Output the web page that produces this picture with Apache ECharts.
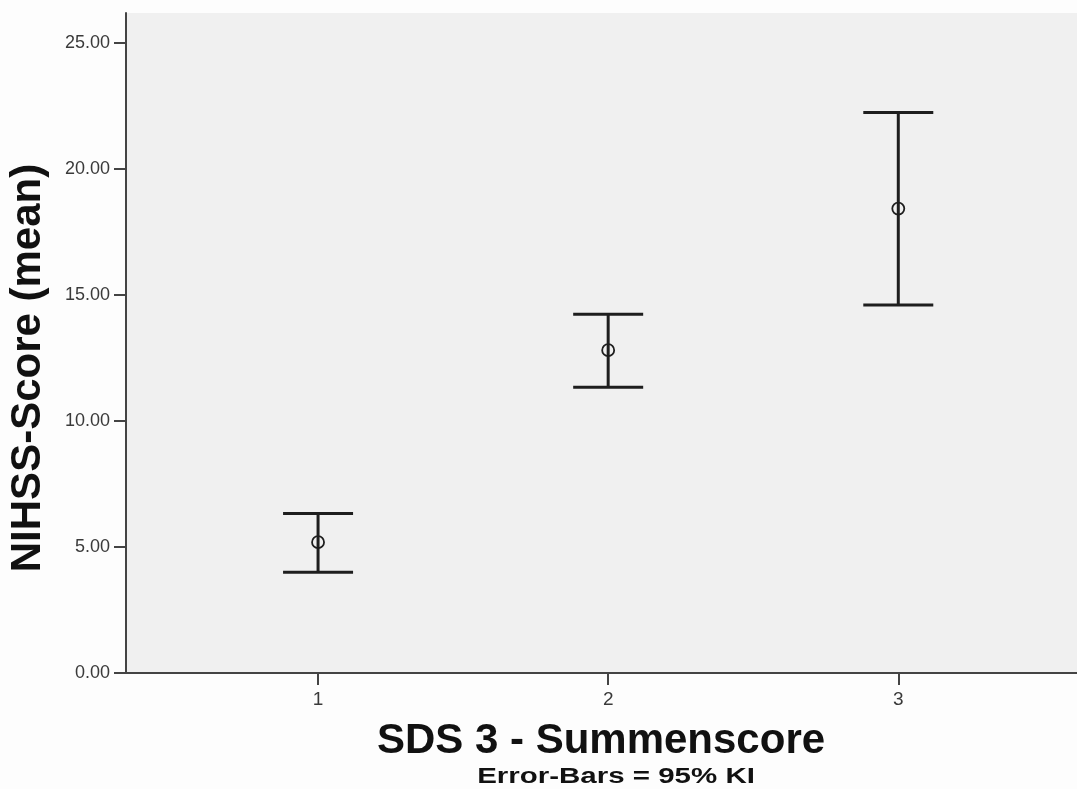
<!DOCTYPE html>
<html>
<head>
<meta charset="utf-8">
<title>NIHSS-Score by SDS 3</title>
<script src="https://cdn.jsdelivr.net/npm/echarts@6/dist/echarts.min.js"></script>
<style>
	html, body { margin: 0; padding: 0; background: #fdfdfd; }
	#chart { width: 1077px; height: 789px; }
</style>
</head>
<body>
<div id="chart"></div>
<script>
// SDS 3 groups and NIHSS mean with 95% CI
const groups = [1, 2, 3];
const means = [5.19, 12.81, 18.43];
const lower = [4.00, 11.34, 14.60];
const upper = [6.33, 14.24, 22.24];
const yTicks = [0, 5, 10, 15, 20, 25];

const xTitle = 'SDS 3 - Summenscore';
const yTitle = 'NIHSS-Score (mean)';
const note = 'Error-Bars = 95% KI';

const ink = '#1e1e1e';
const axisInk = '#444';

var barData = groups.map(function (g, i) {
	return [g, lower[i], upper[i], means[i]];
});

function renderBar(params, api) {
	var x = api.value(0);
	var lo = api.coord([x, api.value(1)]);
	var hi = api.coord([x, api.value(2)]);
	var mid = api.coord([x, api.value(3)]);
	var half = 35;
	var line = { stroke: ink, lineWidth: 3 };
	return {
		type: 'group',
		children: [
			{ type: 'line', shape: { x1: lo[0], y1: lo[1], x2: hi[0], y2: hi[1] }, style: line },
			{ type: 'line', shape: { x1: hi[0] - half, y1: hi[1], x2: hi[0] + half, y2: hi[1] }, style: line },
			{ type: 'line', shape: { x1: lo[0] - half, y1: lo[1], x2: lo[0] + half, y2: lo[1] }, style: line },
			{ type: 'circle', shape: { cx: mid[0], cy: mid[1], r: 6 }, style: { fill: 'none', stroke: ink, lineWidth: 1.8 } }
		]
	};
}

var chart = echarts.init(document.getElementById('chart'));

var option = {
	backgroundColor: '#fdfdfd',
	animation: false,
	grid: {
		left: 126,
		right: 0,
		top: 13,
		bottom: 116,
		show: true,
		backgroundColor: '#f0f0f0',
		borderWidth: 0
	},
	xAxis: {
		type: 'value',
		min: 0.338,
		max: 3.616,
		splitLine: { show: false },
		axisLine: { lineStyle: { color: axisInk, width: 2 } },
		axisTick: { customValues: groups, length: 12, lineStyle: { color: axisInk, width: 2 } },
		axisLabel: {
			customValues: groups,
			margin: 17,
			color: '#3a3a3a',
			fontFamily: 'Liberation Sans',
			fontSize: 19
		}
	},
	yAxis: {
		type: 'value',
		min: 0,
		max: 26.19,
		splitLine: { show: false },
		axisLine: { show: true, lineStyle: { color: axisInk, width: 2 } },
		axisTick: { show: true, customValues: yTicks, length: 12, lineStyle: { color: axisInk, width: 2 } },
		axisLabel: {
			customValues: yTicks,
			margin: 16,
			color: '#3a3a3a',
			fontFamily: 'Liberation Sans',
			fontSize: 18,
			formatter: function (v) { return v.toFixed(2); }
		}
	},
	graphic: [
		{
			type: 'text',
			x: 601,
			y: 741,
			style: {
				text: xTitle,
				fontFamily: 'Liberation Sans',
				fontWeight: 'bold',
				fontSize: 42,
				fill: '#111',
				textAlign: 'center',
				textVerticalAlign: 'middle'
			}
		},
		{
			type: 'text',
			x: 616,
			y: 777,
			scaleX: 1.34,
			style: {
				text: note,
				fontFamily: 'Liberation Sans',
				fontWeight: 'bold',
				fontSize: 22,
				fill: '#111',
				textAlign: 'center',
				textVerticalAlign: 'middle'
			}
		},
		{
			type: 'text',
			x: 28,
			y: 368,
			rotation: Math.PI / 2,
			style: {
				text: yTitle,
				fontFamily: 'Liberation Sans',
				fontWeight: 'bold',
				fontSize: 42,
				fill: '#111',
				textAlign: 'center',
				textVerticalAlign: 'middle'
			}
		}
	],
	series: [
		{
			type: 'custom',
			renderItem: renderBar,
			data: barData,
			encode: { x: 0, y: [1, 2, 3] }
		}
	]
};

chart.setOption(option);
</script>
</body>
</html>
